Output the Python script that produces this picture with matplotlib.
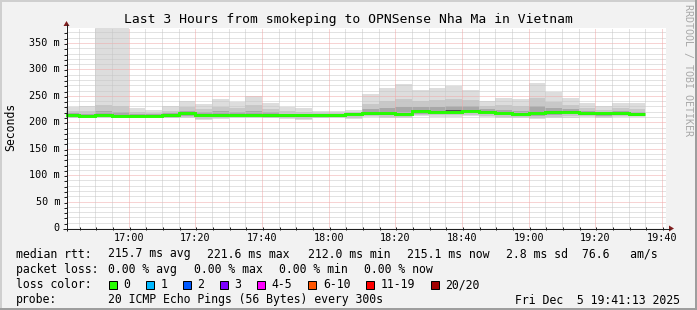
import matplotlib
matplotlib.use("Agg")
import matplotlib.pyplot as plt
from matplotlib.patches import Polygon, Rectangle

W, H = 697, 310
DPI = 100

# ---------------- data ----------------
title = "Last 3 Hours from smokeping to OPNSense Nha Ma in Vietnam"
start_time = "16:41:13"
end_time = "19:41:13"
bin_end = ["16:45", "16:50", "16:55", "17:00", "17:05", "17:10", "17:15",
           "17:20", "17:25", "17:30", "17:35", "17:40", "17:45", "17:50",
           "17:55", "18:00", "18:05", "18:10", "18:15", "18:20", "18:25",
           "18:30", "18:35", "18:40", "18:45", "18:50", "18:55", "19:00",
           "19:05", "19:10", "19:15", "19:20", "19:25", "19:30", "19:35"]
bin_minutes = 5

median_ms = [213.6, 212.0, 214.3, 212.4, 212.0, 212.0, 213.0, 216.8, 214.3, 214.3,
             214.3, 214.2, 213.4, 213.0, 213.0, 213.6, 213.0, 215.5, 216.8, 216.8,
             216.2, 221.2, 220.0, 220.2, 221.6, 220.0, 217.4, 216.2, 217.4, 219.2,
             220.0, 216.8, 216.8, 216.8, 215.1]
ping_max = [229.5, 231.4, 400.0, 400.0, 227.6, 223.3, 230.8, 240.9, 234.6, 244.1,
            237.8, 250.3, 237.1, 229.5, 227.6, 221.4, 221.4, 222.7, 253.5, 264.3,
            271.9, 260.5, 264.3, 268.7, 261.1, 240.9, 246.5, 244.1, 274.3, 257.9,
            246.5, 237.1, 230.3, 237.1, 235.9]
ping_hi2 = [221.6, 221.7, 232.0, 230.0, 219.8, 217.7, 221.9, 228.9, 224.5, 229.2,
            226.1, 232.3, 225.3, 221.3, 220.3, 218.2, 217.8, 219.6, 235.2, 240.6,
            244.1, 240.9, 242.2, 244.5, 241.4, 230.5, 232.0, 230.2, 245.9, 238.6,
            233.3, 227.0, 223.6, 227.0, 225.5]
ping_hi3 = [217.1, 216.3, 221.0, 219.0, 215.5, 215.5, 216.9, 222.1, 218.8, 220.9,
            219.5, 222.1, 218.6, 216.6, 216.5, 216.6, 216.0, 218.3, 224.9, 227.3,
            228.5, 229.8, 229.7, 230.9, 230.3, 224.6, 223.8, 222.3, 229.9, 227.7,
            225.8, 221.3, 220.3, 221.3, 219.7]
ping_hi4 = [215.9, 214.3, 216.6, 214.7, 214.3, 214.3, 215.3, 219.1, 216.6, 216.6,
            216.6, 216.5, 215.7, 215.3, 215.3, 215.7, 215.1, 217.6, 219.1, 219.1,
            218.5, 223.5, 222.3, 222.5, 223.9, 222.3, 219.7, 218.5, 219.7, 221.5,
            222.3, 219.1, 219.1, 219.1, 217.4]
ping_lo4 = [211.0, 209.8, 211.7, 210.0, 209.8, 210.3, 210.6, 214.2, 211.7, 211.7,
            211.7, 211.6, 210.8, 210.4, 210.4, 211.0, 210.6, 212.9, 214.2, 214.2,
            213.6, 218.6, 217.4, 217.6, 219.0, 217.4, 214.8, 213.6, 214.8, 216.6,
            217.4, 214.2, 214.2, 214.2, 212.5]
ping_lo3 = [210.4, 209.3, 210.9, 209.6, 209.4, 210.0, 210.1, 212.4, 209.8, 210.7,
            211.3, 211.0, 210.4, 209.7, 209.1, 210.5, 210.2, 211.3, 213.2, 213.0,
            212.3, 216.6, 215.6, 215.7, 217.0, 215.2, 213.5, 212.3, 212.4, 213.9,
            214.9, 213.2, 212.6, 213.2, 212.2]
ping_lo2 = [209.0, 208.6, 209.2, 208.9, 209.0, 209.7, 208.9, 209.8, 206.8, 208.2,
            210.1, 209.2, 209.0, 207.5, 206.5, 209.0, 209.6, 208.5, 211.2, 210.7,
            209.7, 214.2, 213.0, 213.0, 214.3, 212.0, 210.9, 209.7, 209.0, 210.4,
            211.5, 211.3, 209.8, 211.3, 211.5]
ping_min = [207.5, 207.5, 207.5, 207.8, 208.7, 209.4, 207.5, 207.5, 204.3, 206.2,
            208.7, 207.5, 207.5, 205.6, 204.3, 207.5, 208.7, 206.2, 209.4, 208.7,
            207.5, 211.9, 210.6, 210.6, 211.9, 209.4, 208.7, 207.5, 206.2, 207.5,
            208.7, 209.4, 207.5, 209.4, 210.6]
loss_count = [0] * 35

y_top_ms = 378.4
y_major_step = 50
y_minor_step = 10
x_tick_labels = ["17:00", "17:20", "17:40", "18:00", "18:20", "18:40", "19:00",
                 "19:20", "19:40"]

loss_labels = ["0", "1", "2", "3", "4-5", "6-10", "11-19", "20/20"]
loss_colors = ["#26ff00", "#00b8ff", "#0059ff", "#7e00ff", "#ff00ff",
               "#ff5500", "#ff0000", "#a10000"]
loss_upper = [0, 1, 2, 3, 5, 10, 19, 20]

legend_rtt = ["215.7 ms avg", "221.6 ms max", "212.0 ms min", "215.1 ms now",
              "2.8 ms sd", "76.6   am/s"]
legend_loss = ["0.00 % avg", "0.00 % max", "0.00 % min", "0.00 % now"]
probe_text = "20 ICMP Echo Pings (56 Bytes) every 300s"
date_text = "Fri Dec  5 19:41:13 2025"
watermark = "RRDTOOL / TOBI OETIKER"


def to_min(s):
    parts = [int(p) for p in s.split(":")]
    while len(parts) < 3:
        parts.append(0)
    return (parts[0] - 16) * 60 + parts[1] + parts[2] / 60.0


# ---------------- figure ----------------
MONO = "DejaVu Sans Mono"
BG = "#f2f2f2"
fig = plt.figure(figsize=(W / DPI, H / DPI), dpi=DPI, facecolor=BG)

X0, X1 = 66, 666      # plot area pixels
Y0, Y1 = 228, 28
ax = fig.add_axes([X0 / W, (H - Y0) / H, (X1 - X0) / W, (Y0 - Y1) / H])
ax.set_facecolor("white")
for s in ax.spines.values():
    s.set_visible(False)
ax.set_xticks([])
ax.set_yticks([])

t0, t1 = to_min(start_time), to_min(end_time)
ax.set_xlim(t0, t1)
ax.set_ylim(0, y_top_ms)

ends = [to_min(b) for b in bin_end]
edges = [ends[0] - bin_minutes] + ends

levels = [(ping_min, ping_max, "#dddddd"),
          (ping_lo2, ping_hi2, "#c8c8c8"),
          (ping_lo3, ping_hi3, "#a8a8a8"),
          (ping_lo4, ping_hi4, "#505050")]
for lo, hi, col in levels:
    ax.stairs(hi, edges, baseline=lo, fill=True, color=col, lw=0, zorder=1)

# grid (drawn over smoke, like rrdtool), dotted 1px
dot = (0, (1, 1))
GRID_KW = dict(lw=0.72, ls=dot, zorder=2, snap=True)
MINOR_C = "#c6c6c6"
MAJOR_C = "#f0a8a8"
v = y_minor_step
while v < y_top_ms:
    if v % y_major_step:
        ax.axhline(v, color=MINOR_C, **GRID_KW)
    v += y_minor_step
v = y_major_step
while v < y_top_ms:
    ax.axhline(v, color=MAJOR_C, **GRID_KW)
    v += y_major_step
major_x = [to_min(t) for t in x_tick_labels]
m = 45
while m < t1:
    if all(abs(m - mx) > 1e-6 for mx in major_x):
        ax.axvline(m, color=MINOR_C, **GRID_KW)
    m += 5
for mx in major_x:
    ax.axvline(mx, color=MAJOR_C, **GRID_KW)


# median line coloured by loss
def loss_col(n):
    for up, c in zip(loss_upper, loss_colors):
        if n <= up:
            return c
    return loss_colors[-1]


cols = [loss_col(n) for n in loss_count]
i = 0
while i < len(cols):
    j = i
    while j + 1 < len(cols) and cols[j + 1] == cols[i]:
        j += 1
    ax.stairs(median_ms[i:j + 1], edges[i:j + 2], baseline=None,
              color=cols[i], lw=2.1, zorder=3)
    i = j + 1

# ---------------- overlay (pixel coordinates) ----------------
ov = fig.add_axes([0, 0, 1, 1], zorder=5)
ov.set_xlim(0, W)
ov.set_ylim(H, 0)
ov.axis("off")
ov.patch.set_alpha(0)

px = 0.72  # one pixel in points


def xpix(t):
    return X0 + (t - t0) / (t1 - t0) * (X1 - X0)


def ypix(val):
    return Y0 - val / y_top_ms * (Y0 - Y1)


AXC = "#1f1f1f"
ARC = "#801f1f"
# axes lines
ov.plot([63, 670], [Y0 + 0.5, Y0 + 0.5], color=AXC, lw=px, solid_capstyle="butt")
ov.plot([X0 + 0.5, X0 + 0.5], [Y0 + 3, 24], color=AXC, lw=px, solid_capstyle="butt")
ov.add_patch(Polygon([[669, 225.5], [669, 231.5], [674, 228.5]], closed=True,
                     color=ARC, lw=0))
ov.add_patch(Polygon([[63.5, 26], [69.5, 26], [66.5, 21]], closed=True,
                     color=ARC, lw=0))

# ticks on axes
v = y_minor_step
while v < y_top_ms:
    yy = round(ypix(v)) + 0.5
    ov.plot([X0 - 2, X0 + 1], [yy, yy], color=AXC, lw=px, solid_capstyle="butt")
    v += y_minor_step
m = 45
while m < t1:
    xx = round(xpix(m)) + 0.5
    ov.plot([xx, xx], [Y0 - 1, Y0 + 2], color=AXC, lw=px, solid_capstyle="butt")
    m += 5

AX_FS = 7.3
LEG_FS = 8.3
# y tick labels
v = 0
while v < y_top_ms:
    lab = "0" if v == 0 else f"{v} m"
    ov.text(60, ypix(v), lab, ha="right", va="center", family=MONO,
            fontsize=AX_FS, color="black")
    v += y_major_step
# x tick labels
for lab, mx in zip(x_tick_labels, major_x):
    ov.text(xpix(mx), 238, lab, ha="center", va="center", family=MONO,
            fontsize=AX_FS, color="black")

# title / unit / watermark
ov.text(348.5, 19, title, ha="center", va="center", family=MONO,
        fontsize=9.4, color="black")
ov.text(11, 127, "Seconds", ha="center", va="center", rotation=90,
        family=MONO, fontsize=LEG_FS, color="black")
ov.text(688, 4, watermark, ha="center", va="top", rotation=270, family=MONO,
        fontsize=7.2, color="#a8a8a8")

# legend
rows_y = [254, 269.5, 285, 300]
ov.text(16, rows_y[0], "median rtt:", ha="left", va="center", family=MONO,
        fontsize=LEG_FS)
for x, s in zip([107.5, 207, 307.5, 407, 506.5, 582], legend_rtt):
    ov.text(x, rows_y[0], s, ha="left", va="center", family=MONO, fontsize=LEG_FS)
ov.text(16, rows_y[1], "packet loss:", ha="left", va="center", family=MONO,
        fontsize=LEG_FS)
for x, s in zip([107.5, 193.5, 279, 364.5], legend_loss):
    ov.text(x, rows_y[1], s, ha="left", va="center", family=MONO, fontsize=LEG_FS)
ov.text(16, rows_y[2], "loss color:", ha="left", va="center", family=MONO,
        fontsize=LEG_FS)
box_x = [108, 145, 182, 219, 256, 307.5, 365, 430]
for bx, lab, col in zip(box_x, loss_labels, loss_colors):
    ov.add_patch(Rectangle((bx + 0.5, rows_y[2] - 4), 8, 8, facecolor=col,
                           edgecolor="black", lw=px))
    ov.text(bx + 15.5, rows_y[2], lab, ha="left", va="center", family=MONO,
            fontsize=LEG_FS)
ov.text(16, rows_y[3], "probe:", ha="left", va="center", family=MONO,
        fontsize=LEG_FS)
ov.text(107.5, rows_y[3], probe_text, ha="left", va="center", family=MONO,
        fontsize=LEG_FS)
ov.text(680, rows_y[3], date_text, ha="right", va="center", family=MONO,
        fontsize=LEG_FS)

# 3D frame shading
ov.plot([0, W], [0.5, 0.5], color="#cfcfcf", lw=2 * px)
ov.plot([0.5, 0.5], [0, H], color="#cfcfcf", lw=2 * px)
ov.plot([0, W], [H - 1, H - 1], color="#9e9e9e", lw=2 * px)
ov.plot([W - 1, W - 1], [0, H], color="#9e9e9e", lw=2 * px)

fig.savefig("out.png", dpi=DPI, facecolor=BG)
